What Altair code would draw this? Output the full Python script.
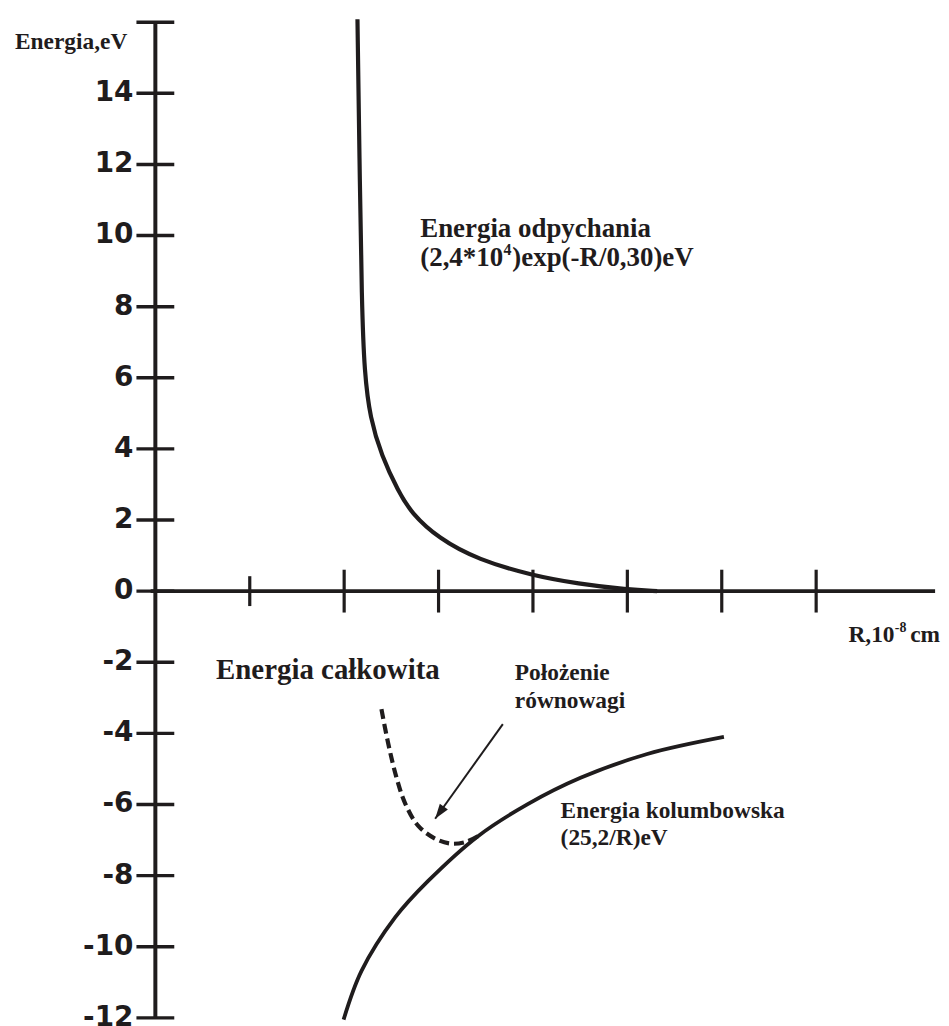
import altair as alt
import pandas as pd

INK = "#1f1c1d"
SERIF = "Liberation Serif"
SANS = "DejaVu Sans"

# ---- axis values (R in 1e-8 cm, E in eV) ----
y_tick_values = [-12, -10, -8, -6, -4, -2, 0, 2, 4, 6, 8, 10, 12, 14, 16]
y_label_values = [-12, -10, -8, -6, -4, -2, 0, 2, 4, 6, 8, 10, 12, 14]
x_ticks_short = [1]
x_ticks_long = [2, 3, 4, 5, 6, 7]
x_axis_span = [-0.05, 8.26]
y_axis_span = [-12, 16]

# ---- curves ----
rep_R = [2.141, 2.162, 2.187, 2.215, 2.275, 2.395, 2.574, 2.711, 2.996, 3.418, 4.008, 4.473, 5.000, 5.316]
rep_E = [16.08, 12.22, 8.02, 6.14, 4.86, 3.82, 2.80, 2.20, 1.49, 0.88, 0.43, 0.21, 0.04, 0.00]

coul_R = [1.994, 2.184, 2.542, 2.890, 3.418, 3.945, 4.504, 5.211, 6.023]
coul_E = [-12.05, -10.68, -9.17, -8.15, -6.89, -5.99, -5.25, -4.58, -4.10]

tot_R = [2.395, 2.468, 2.553, 2.648, 2.785, 2.964, 3.133, 3.291, 3.418]
tot_E = [-3.32, -4.30, -5.23, -5.98, -6.60, -6.96, -7.10, -7.05, -6.89]

arrow_R = [3.681, 2.964]
arrow_E = [-3.74, -6.40]

# annotation anchors (data units)
ann_ylabel = (-1.487, 15.25)
ann_rep1 = (2.806, 9.97)
ann_rep2 = (2.806, 9.13)
ann_total = (0.643, -2.459)
ann_eq1 = (3.808, -2.487)
ann_eq2 = (3.808, -3.298)
ann_coul1 = (4.293, -6.375)
ann_coul2 = (4.293, -7.131)
ann_xlabel = (7.342, -1.424)

xs = alt.Scale(domain=[-1.561, 8.312], nice=False, zero=False)
ys = alt.Scale(domain=[-12.14, 16.196], nice=False, zero=False)


def X(field="R"):
    return alt.X(f"{field}:Q", scale=xs, axis=None)


def Y(field="E"):
    return alt.Y(f"{field}:Q", scale=ys, axis=None)


def text_layer(anchor, txt, size, dx=0, dy=0, font=SERIF):
    df = pd.DataFrame({"R": [anchor[0]], "E": [anchor[1]], "t": [txt]})
    return alt.Chart(df).mark_text(
        align="left", baseline="alphabetic", font=font, fontWeight="bold",
        fontSize=size, color=INK, dx=dx, dy=dy
    ).encode(x=X(), y=Y(), text="t:N")


layers = []

# axis lines
layers.append(alt.Chart(pd.DataFrame({"R": [x_axis_span[0]], "R2": [x_axis_span[1]], "E": [0]}))
              .mark_rule(strokeWidth=4, color=INK)
              .encode(x=X(), x2="R2:Q", y=Y()))
layers.append(alt.Chart(pd.DataFrame({"R": [0], "E": [y_axis_span[0]], "E2": [y_axis_span[1]]}))
              .mark_rule(strokeWidth=4, color=INK)
              .encode(x=X(), y=Y(), y2="E2:Q"))

# y ticks crossing the axis
layers.append(alt.Chart(pd.DataFrame({"R": [0] * len(y_tick_values), "E": y_tick_values}))
              .mark_tick(orient="horizontal", size=38, thickness=3.5, color=INK, opacity=1)
              .encode(x=X(), y=Y()))
# y tick labels
layers.append(alt.Chart(pd.DataFrame({"R": [0] * len(y_label_values), "E": y_label_values,
                                      "t": [str(v) for v in y_label_values]}))
              .mark_text(align="right", baseline="middle", dx=-22, font=SANS, fontWeight="bold",
                         fontSize=28, color=INK)
              .encode(x=X(), y=Y(), text="t:N"))

# x ticks crossing the axis
layers.append(alt.Chart(pd.DataFrame({"R": x_ticks_short, "E": [0] * len(x_ticks_short)}))
              .mark_tick(orient="vertical", size=30, thickness=3.2, color=INK, opacity=1)
              .encode(x=X(), y=Y()))
layers.append(alt.Chart(pd.DataFrame({"R": x_ticks_long, "E": [0] * len(x_ticks_long)}))
              .mark_tick(orient="vertical", size=43, thickness=3.2, color=INK, opacity=1)
              .encode(x=X(), y=Y()))

# curves
layers.append(alt.Chart(pd.DataFrame({"R": rep_R, "E": rep_E}))
              .mark_line(interpolate="basis", strokeWidth=4.2, color=INK)
              .encode(x=X(), y=Y()))
layers.append(alt.Chart(pd.DataFrame({"R": coul_R, "E": coul_E}))
              .mark_line(interpolate="catmull-rom", strokeWidth=3.8, color=INK)
              .encode(x=X(), y=Y()))
layers.append(alt.Chart(pd.DataFrame({"R": tot_R, "E": tot_E}))
              .mark_line(interpolate="catmull-rom", strokeWidth=4.2, color=INK, strokeDash=[10, 5])
              .encode(x=X(), y=Y()))

# arrow
layers.append(alt.Chart(pd.DataFrame({"R": arrow_R, "E": arrow_E, "o": [0, 1]}))
              .mark_line(strokeWidth=2, color=INK)
              .encode(x=X(), y=Y(), order="o:Q"))
layers.append(alt.Chart(pd.DataFrame({"R": [arrow_R[1]], "E": [arrow_E[1]]}))
              .mark_point(shape="M0,0L0.5,1.5L-0.5,1.5Z", size=400, angle=215.6,
                          filled=True, opacity=1, color=INK, strokeWidth=0)
              .encode(x=X(), y=Y()))

# texts
layers.append(text_layer(ann_ylabel, "Energia,eV", 23.5))
layers.append(text_layer(ann_rep1, "Energia odpychania", 27))
layers.append(text_layer(ann_rep2, "(2,4*10", 27))
layers.append(text_layer(ann_rep2, "4", 16, dx=83.5, dy=-11))
layers.append(text_layer(ann_rep2, ")exp(-R/0,30)eV", 27, dx=92.5))
layers.append(text_layer(ann_total, "Energia całkowita", 29))
layers.append(text_layer(ann_eq1, "Położenie", 23.5))
layers.append(text_layer(ann_eq2, "równowagi", 23.5))
layers.append(text_layer(ann_coul1, "Energia kolumbowska", 23.5))
layers.append(text_layer(ann_coul2, "(25,2/R)eV", 23.5))
layers.append(text_layer(ann_xlabel, "R,10", 23.5))
layers.append(text_layer(ann_xlabel, "-8", 14, dx=46.5, dy=-10))
layers.append(text_layer(ann_xlabel, "cm", 23.5, dx=62))

chart = alt.layer(*layers).properties(
    width=936, height=1012, padding=0, background="white"
).configure_view(stroke=None)

chart.save("out.html", embed_options={"renderer": "svg", "actions": False})
